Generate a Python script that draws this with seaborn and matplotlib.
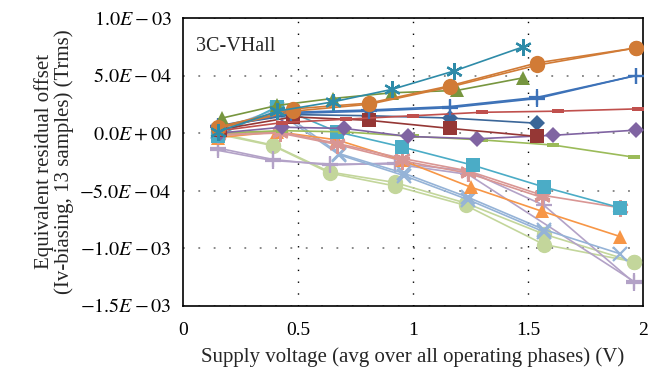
import numpy as np
import pandas as pd
import matplotlib
matplotlib.use("Agg")
import matplotlib.pyplot as plt
import seaborn as sns

# ---- data (values in units of 1e-4) ----
teal_ast_x = [0.15, 0.41, 0.65, 0.91, 1.18, 1.48]
teal_ast_y = [0.1, 1.9, 2.7, 3.8, 5.4, 7.5]
orange_c1_x = [0.15, 0.48, 0.81, 1.16, 1.54, 1.97]
orange_c1_y = [0.5, 2.1, 2.6, 4.1, 6.1, 7.4]
orange_c2_x = [0.15, 0.48, 0.81, 1.16, 1.54, 1.97]
orange_c2_y = [0.4, 1.9, 2.5, 4.0, 5.9, 7.4]
olive_tri_x = [0.17, 0.41, 0.65, 0.91, 1.19, 1.48]
olive_tri_y = [1.3, 2.4, 3.0, 3.5, 3.7, 4.8]
blue_plus1_x = [0.15, 0.47, 0.81, 1.16, 1.54, 1.97]
blue_plus1_y = [0.5, 1.7, 1.9, 2.2, 3.0, 5.0]
blue_plus2_x = [0.15, 0.47, 0.81, 1.16, 1.54, 1.97]
blue_plus2_y = [0.6, 1.8, 2.0, 2.3, 3.1, 5.0]
red_dash_x = [0.16, 0.43, 0.71, 1.00, 1.30, 1.63, 1.98]
red_dash_y = [0.2, 0.9, 1.2, 1.5, 1.8, 1.9, 2.1]
dred_sq_x = [0.16, 0.48, 0.81, 1.16, 1.54]
dred_sq_y = [0.3, 1.4, 1.1, 0.4, -0.3]
dblue_dia_x = [0.16, 0.48, 0.81, 1.16, 1.54]
dblue_dia_y = [0.6, 1.6, 1.5, 1.3, 0.85]
purple_dia_x = [0.16, 0.43, 0.70, 0.98, 1.28, 1.61, 1.97]
purple_dia_y = [0.0, 0.5, 0.4, -0.3, -0.5, -0.2, 0.25]
green_dash_x = [0.16, 0.43, 0.70, 1.00, 1.30, 1.61, 1.96]
green_dash_y = [0.0, 0.2, 0.1, -0.3, -0.6, -1.05, -2.1]
aqua_sq_x = [0.15, 0.41, 0.67, 0.95, 1.26, 1.57, 1.90]
aqua_sq_y = [-0.3, 2.3, 0.1, -1.2, -2.8, -4.7, -6.5]
pink_ast1_x = [0.15, 0.42, 0.67, 0.95, 1.24, 1.56, 1.90]
pink_ast1_y = [-0.1, 0.1, -0.9, -2.2, -3.3, -5.4, -6.5]
pink_ast2_x = [0.15, 0.42, 0.67, 0.95, 1.24, 1.56]
pink_ast2_y = [-0.2, 0.0, -1.0, -2.4, -3.5, -5.6]
orange_tri_x = [0.15, 0.41, 0.67, 0.95, 1.25, 1.56, 1.90]
orange_tri_y = [-0.4, 0.1, -0.6, -2.35, -4.7, -6.8, -9.0]
lblue_x1_x = [0.15, 0.41, 0.68, 0.96, 1.24, 1.57, 1.90]
lblue_x1_y = [0.2, 2.1, -1.8, -3.5, -5.6, -8.4, -10.5]
lblue_x2_x = [0.15, 0.41, 0.68, 0.96, 1.24, 1.57]
lblue_x2_y = [0.1, 1.8, -1.9, -3.7, -5.8, -8.6]
lgreen_c1_x = [0.15, 0.39, 0.64, 0.92, 1.23, 1.57, 1.96]
lgreen_c1_y = [0.0, -1.05, -3.4, -4.3, -6.1, -8.8, -11.2]
lgreen_c2_x = [0.15, 0.39, 0.64, 0.92, 1.23, 1.57, 1.96]
lgreen_c2_y = [-0.1, -1.1, -3.5, -4.6, -6.3, -9.7, -11.2]
lpurp_p1_x = [0.15, 0.39, 0.64, 0.92, 1.24, 1.57, 1.96]
lpurp_p1_y = [-1.3, -2.3, -2.8, -2.6, -3.3, -6.3, -13.0]
lpurp_p2_x = [0.15, 0.39, 0.64, 0.92, 1.24, 1.96]
lpurp_p2_y = [-1.5, -2.4, -2.7, -2.7, -3.6, -12.9]

yticks = [1.0e-3, 5.0e-4, 0.0, -5.0e-4, -1.0e-3, -1.5e-3]
ytick_labels = [r"$1.0E-03$", r"$5.0E-04$", r"$0.0E+00$",
                r"$-5.0E-04$", r"$-1.0E-03$", r"$-1.5E-03$"]
xticks = [0, 0.5, 1, 1.5, 2]
xtick_labels = ["0", "0.5", "1", "1.5", "2"]

dash_marker = [(-1, -0.4), (1, -0.4), (1, 0.4), (-1, 0.4), (-1, -0.4)]
asterisk = (6, 2, 0)

series = [
    (lgreen_c1_x, lgreen_c1_y, "#C3D69B", "o", 11),
    (lgreen_c2_x, lgreen_c2_y, "#C3D69B", "o", 11),
    (lpurp_p1_x, lpurp_p1_y, "#B3A2C7", "+", 12),
    (lpurp_p2_x, lpurp_p2_y, "#B3A2C7", "+", 12),
    (lblue_x1_x, lblue_x1_y, "#95B3D7", "x", 10),
    (lblue_x2_x, lblue_x2_y, "#95B3D7", "x", 10),
    (orange_tri_x, orange_tri_y, "#F79646", "^", 10),
    (pink_ast1_x, pink_ast1_y, "#D99694", asterisk, 12),
    (pink_ast2_x, pink_ast2_y, "#D99694", asterisk, 12),
    (aqua_sq_x, aqua_sq_y, "#4BACC6", "s", 10),
    (green_dash_x, green_dash_y, "#9BBB59", dash_marker, 8),
    (purple_dia_x, purple_dia_y, "#8064A2", "D", 8),
    (dblue_dia_x, dblue_dia_y, "#3B6698", "D", 8),
    (dred_sq_x, dred_sq_y, "#953735", "s", 10),
    (red_dash_x, red_dash_y, "#C0504D", dash_marker, 8),
    (blue_plus1_x, blue_plus1_y, "#3D72B8", "+", 12),
    (blue_plus2_x, blue_plus2_y, "#3D72B8", "+", 12),
    (olive_tri_x, olive_tri_y, "#77963F", "^", 10),
    (orange_c1_x, orange_c1_y, "#D17B36", "o", 11),
    (orange_c2_x, orange_c2_y, "#D17B36", "o", 11),
    (teal_ast_x, teal_ast_y, "#2E8BA8", asterisk, 12),
]

sns.set_theme(style="white")
plt.rcParams["font.family"] = ["Liberation Serif", "DejaVu Serif"]
plt.rcParams["mathtext.fontset"] = "stix"

fig = plt.figure(figsize=(6.6, 3.76), dpi=100)
ax = fig.add_axes([183 / 660, 1 - 305.5 / 376, 460 / 660, 287.5 / 376])

for i, (xs, ys, col, mk, ms) in enumerate(series):
    df = pd.DataFrame({"v": xs, "val": np.array(ys) * 1e-4})
    open_marker = mk in ("+", "x") or mk == asterisk
    sns.lineplot(data=df, x="v", y="val", ax=ax, color=col, sort=False,
                 estimator=None, linewidth=1.2, marker=mk, markersize=ms,
                 markeredgewidth=1.6 if open_marker else 0,
                 markeredgecolor=col, markerfacecolor=col, zorder=3 + i * 0.01)

ax.set_xlim(0, 2)
ax.set_ylim(-1.5e-3, 1.0e-3)
ax.set_xticks(xticks)
ax.set_xticklabels(xtick_labels, fontsize=14)
ax.set_yticks(yticks)
ax.set_yticklabels(ytick_labels, fontsize=14.5)

for yv in yticks:
    ax.axhline(yv, color="#7f7f7f", linestyle=(0, (1, 7.5)), linewidth=1.3, zorder=1)
for xv in [0.5, 1.0, 1.5]:
    ax.axvline(xv, color="black", linestyle=(0, (1, 7.5)), linewidth=1.0, zorder=1)

for s in ax.spines.values():
    s.set_color("black")
    s.set_linewidth(1.2)

ax.tick_params(axis="x", direction="inout", length=8, width=1, colors="black", pad=8)
ax.tick_params(axis="y", direction="out", length=5, width=1, colors="black", pad=3)
for lab in ax.get_xticklabels() + ax.get_yticklabels():
    lab.set_color("black")

ax.set_xlabel("Supply voltage (avg over all operating phases) (V)", fontsize=15, labelpad=6)
ax.set_ylabel("Equivalent residual offset\n(Iv-biasing, 13 samples) (Trms)", fontsize=15,
              labelpad=4, linespacing=1.0)
ax.text(0.028, 0.9, "3C-VHall", transform=ax.transAxes, fontsize=14.5, va="center")

fig.savefig("out.png", dpi=100)
